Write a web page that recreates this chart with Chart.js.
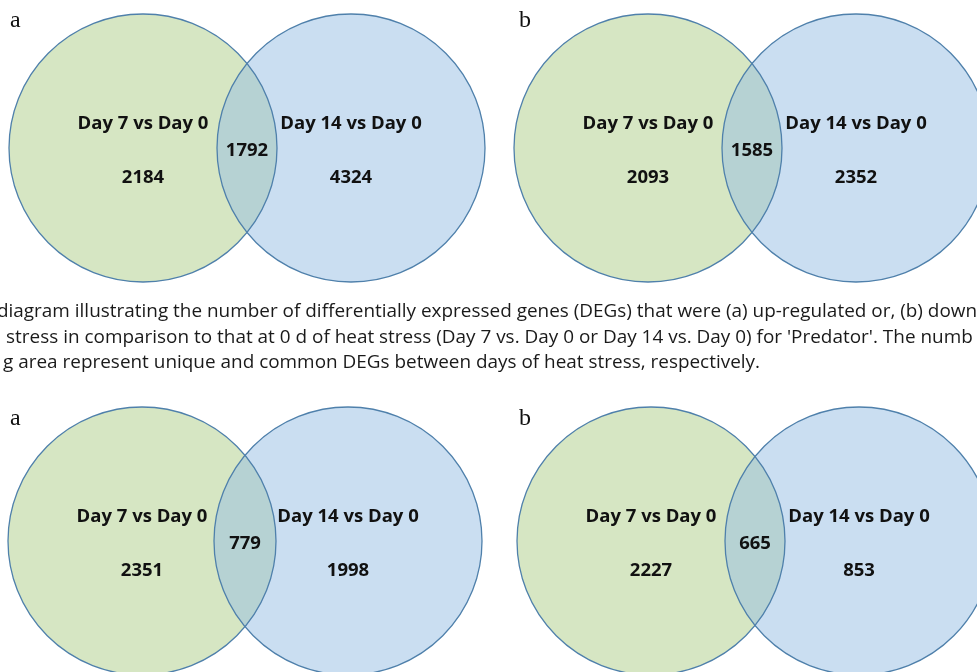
<!DOCTYPE html>
<html>
<head>
<meta charset="utf-8">
<script src="https://cdn.jsdelivr.net/npm/chart.js@4.4.1/dist/chart.umd.min.js"></script>
<style>
  body { margin: 0; background: #fff; }
  #wrap { position: relative; width: 977px; height: 672px; overflow: hidden; }
  #caption {
    position: absolute; left: 0; top: 297px; width: 1300px;
    font-family: "Open Sans", sans-serif; font-size: 18.7px; line-height: 25.5px;
    color: #1a1a1a; white-space: nowrap; transform-origin: 0 0;
  }
  #caption div { position: relative; }
</style>
</head>
<body>
<div id="wrap">
  <canvas id="venn"></canvas>
  <div id="caption">
    <div style="left:-3px">diagram illustrating the number of differentially expressed genes (DEGs) that were (a) up-regulated or, (b) down</div>
    <div style="left:6px">stress in comparison to that at 0 d of heat stress (Day 7 vs. Day 0 or Day 14 vs. Day 0) for 'Predator'. The numb</div>
    <div id="lastLine" style="left:3px">g area represent unique and common DEGs between days of heat stress, respectively.</div>
  </div>
</div>
<script>
// data
const panelLetters = ['a', 'b', 'a', 'b'];
const setNames = ['Day 7 vs Day 0', 'Day 14 vs Day 0'];
const onlyDay7 = [2184, 2093, 2351, 2227];
const shared = [1792, 1585, 779, 665];
const onlyDay14 = [4324, 2352, 1998, 853];

// layout (pixel coordinates of each panel's circle centres)
const R = 134;
const centres = [
    { l: 143, r: 351, y: 148 },
    { l: 648, r: 856, y: 148 },
    { l: 142, r: 348, y: 541 },
    { l: 651, r: 859, y: 541 }
];
const letterPos = [[10, 27], [519, 27], [10, 425], [519, 425]];

const GREEN = 'rgb(214,230,195)';
const BLUE = 'rgba(149,189,227,0.5)';
const EDGE = '#4f80ab';

// bubbles normally push the chart area in by their radius; we want page pixels
Chart.BubbleController.prototype.getMaxOverflow = function () { return false; };

const labelPlugin = {
    id: 'vennLabels',
    afterDatasetsDraw(chart) {
        const ctx = chart.ctx;
        const xs = chart.scales.x, ys = chart.scales.y;
        ctx.save();
        ctx.fillStyle = '#111';
        ctx.textAlign = 'center';
        ctx.textBaseline = 'alphabetic';
        ctx.font = 'bold 18.5px "Open Sans", sans-serif';
        centres.forEach((c, i) => {
            const xl = xs.getPixelForValue(c.l);
            const xr = xs.getPixelForValue(c.r);
            const yc = ys.getPixelForValue(c.y);
            ctx.fillText(setNames[0], xl, yc - 19);
            ctx.fillText(setNames[1], xr, yc - 19);
            ctx.fillText(String(onlyDay7[i]), xl, yc + 35);
            ctx.fillText(String(onlyDay14[i]), xr, yc + 35);
            ctx.fillText(String(shared[i]), (xl + xr) / 2, yc + 8);
        });
        ctx.font = '24px "Liberation Serif", serif';
        ctx.textAlign = 'left';
        panelLetters.forEach((t, i) => {
            ctx.fillText(t, letterPos[i][0], letterPos[i][1]);
        });
        ctx.restore();
    }
};

const ctx = document.getElementById('venn').getContext('2d');
const vennChart = new Chart(ctx, {
    type: 'bubble',
    data: {
        datasets: [
            {
                label: 'Day 7 vs Day 0',
                data: centres.map(c => ({ x: c.l, y: c.y, r: R })),
                backgroundColor: GREEN,
                borderWidth: 0,
                order: 3
            },
            {
                label: 'Day 14 vs Day 0',
                data: centres.map(c => ({ x: c.r, y: c.y, r: R })),
                backgroundColor: BLUE,
                borderWidth: 0,
                order: 2
            },
            {
                label: 'outline',
                data: centres.flatMap(c => [{ x: c.l, y: c.y, r: R }, { x: c.r, y: c.y, r: R }]),
                backgroundColor: 'rgba(0,0,0,0)',
                borderColor: EDGE,
                borderWidth: 1.3,
                order: 1
            }
        ]
    },
    options: {
        responsive: true,
        maintainAspectRatio: false,
        animation: false,
        events: [],
        layout: { padding: 0 },
        scales: {
            x: { type: 'linear', min: 0, max: 977, display: false },
            y: { type: 'linear', min: 0, max: 672, reverse: true, display: false }
        },
        plugins: {
            legend: { display: false },
            tooltip: { enabled: false }
        }
    },
    plugins: [labelPlugin]
});

// squeeze the caption to the narrow face of the original
const cap = document.getElementById('caption');
const last = document.getElementById('lastLine');
const range = document.createRange();
range.selectNodeContents(last);
const w = range.getBoundingClientRect().width;
cap.style.transform = 'scaleX(' + (757 / w) + ')';
</script>
</body>
</html>
